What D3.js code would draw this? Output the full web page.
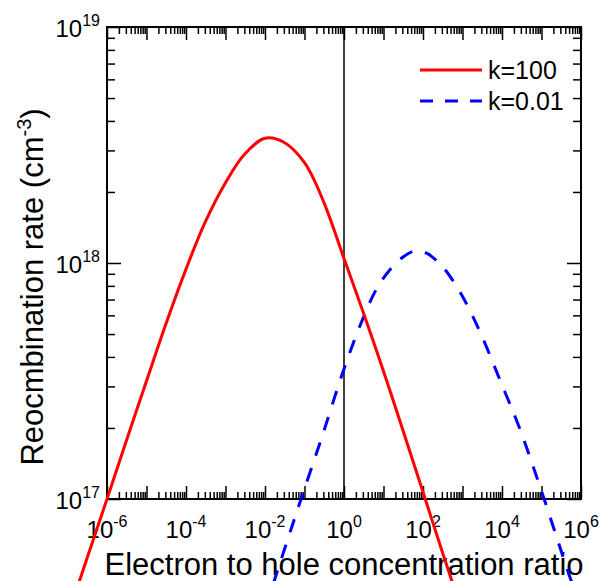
<!DOCTYPE html>
<html>
<head>
<meta charset="utf-8">
<script src="https://cdn.jsdelivr.net/npm/d3@7"></script>
<style>
    body { margin: 0; background: #fff; }
    svg { display: block; font-family: Arial, "Liberation Sans", sans-serif; }
    .tick line { stroke: #000; stroke-width: 1.5; }
    .tick-label { font-size: 24px; fill: #000; }
    .axis-title { font-size: 31px; fill: #000; }
    .legend-text { font-size: 25px; fill: #000; }
</style>
</head>
<body>
<svg id="chart"></svg>
<script>
// Values
const redRatio = [1e-7, 3e-7, 1e-6, 3e-6, 1e-5, 3e-5, 1e-4, 3e-4, 1e-3, 3e-3, 1e-2, 3e-2, 1e-1, 3e-1, 1, 3, 10, 30, 100, 300, 1000];
const redRate = [3.16e16, 5.5e16, 1.0e17, 1.74e17, 3.16e17, 5.43e17, 9.42e17, 1.48e18, 2.19e18, 2.88e18, 3.38e18, 3.25e18, 2.66e18, 1.83e18, 1.045e18, 6.25e17, 3.48e17, 1.99e17, 1.07e17, 6.05e16, 3.29e16];

const blueRatio = [1e-2, 3.16e-2, 8.5e-2, 0.27, 0.95, 2.8, 8.1, 29, 63, 123, 224, 398, 955, 2750, 8900, 2.9e4, 1.12e5, 5.2e5, 1e6];
const blueRate = [3.4e16, 6.17e16, 1.02e17, 1.81e17, 3.47e17, 5.64e17, 8.2e17, 1.05e18, 1.125e18, 1.10e18, 1.02e18, 9.18e17, 7.31e17, 5.12e17, 3.19e17, 1.96e17, 1.02e17, 4.68e16, 3.47e16];

const seriesNames = ["k=100", "k=0.01"];
const xTickLabelExp = [-6, -4, -2, 0, 2, 4, 6];
const yTickLabelExp = [17, 18, 19];

const margin = { top: 27, right: 18, bottom: 82, left: 107 };
const width = 599 - margin.left - margin.right;
const height = 581 - margin.top - margin.bottom;

const svg = d3.select("#chart")
    .attr("width", 599)
    .attr("height", 581);

const g = svg.append("g")
    .attr("transform", `translate(${margin.left},${margin.top})`);

const x = d3.scaleLog().domain([1e-6, 1e6]).range([0, width]);
const y = d3.scaleLog().domain([1e17, 1e19]).range([height, 0]);

// tick positions: one major per decade, minors 2..9
const xMajor = d3.range(-6, 7).map(e => Math.pow(10, e));
const yMajor = d3.range(17, 20).map(e => Math.pow(10, e));
const minorOf = majors => majors.slice(0, -1).flatMap(m => d3.range(2, 10).map(k => k * m));
const xMinor = minorOf(xMajor);
const yMinor = minorOf(yMajor);

function tickAxis(axis, values, size, transform) {
    g.append("g")
        .attr("transform", transform || null)
        .call(axis.tickValues(values).tickSize(-size).tickFormat(""))
        .call(a => a.select(".domain").remove());
}

// inward ticks on all four sides
tickAxis(d3.axisBottom(x), xMajor, 13, `translate(0,${height})`);
tickAxis(d3.axisBottom(x), xMinor, 7, `translate(0,${height})`);
tickAxis(d3.axisTop(x), xMajor, 13);
tickAxis(d3.axisTop(x), xMinor, 7);
tickAxis(d3.axisLeft(y), yMajor, 14);
tickAxis(d3.axisLeft(y), yMinor, 8);
tickAxis(d3.axisRight(y), yMajor, 14, `translate(${width},0)`);
tickAxis(d3.axisRight(y), yMinor, 8, `translate(${width},0)`);

// frame
g.append("rect")
    .attr("width", width)
    .attr("height", height)
    .attr("fill", "none")
    .attr("stroke", "#000")
    .attr("stroke-width", 2);

// vertical line at ratio = 1
g.append("line")
    .attr("x1", x(1)).attr("x2", x(1))
    .attr("y1", 0).attr("y2", height)
    .attr("stroke", "#000")
    .attr("stroke-width", 1.5);

// tick labels with superscript exponents
const xl = g.selectAll(".xlab")
    .data(xTickLabelExp)
    .join("text")
    .attr("class", "tick-label")
    .attr("x", d => x(Math.pow(10, d)))
    .attr("y", height + 39)
    .attr("text-anchor", "middle");
xl.append("tspan").text("10");
xl.append("tspan").attr("dy", -11).attr("font-size", 16).text(d => d);

const yl = g.selectAll(".ylab")
    .data(yTickLabelExp)
    .join("text")
    .attr("class", "tick-label")
    .attr("x", -7)
    .attr("y", d => y(Math.pow(10, d)) + 10)
    .attr("text-anchor", "end");
yl.append("tspan").text("10");
yl.append("tspan").attr("dy", -11).attr("font-size", 16).text(d => d);

// axis titles
g.append("text")
    .attr("class", "axis-title")
    .attr("x", width / 2)
    .attr("y", 575 - margin.top)
    .attr("text-anchor", "middle")
    .text("Electron to hole concentration ratio");

const yt = svg.append("text")
    .attr("class", "axis-title")
    .attr("transform", "translate(43,287) rotate(-90)")
    .attr("text-anchor", "middle");
yt.append("tspan").text("Reocmbination rate (cm");
yt.append("tspan").attr("dy", -12).attr("font-size", 20).text("-3");
yt.append("tspan").attr("dy", 12).text(")");

// curves
const line = (xs, ys) => d3.line()
    .x(i => x(xs[i]))
    .y(i => y(ys[i]))
    .curve(d3.curveCatmullRom.alpha(0.5))(d3.range(xs.length));

g.append("path")
    .attr("d", line(blueRatio, blueRate))
    .attr("fill", "none")
    .attr("stroke", "#0000ff")
    .attr("stroke-width", 3)
    .attr("stroke-dasharray", "14,13");

g.append("path")
    .attr("d", line(redRatio, redRate))
    .attr("fill", "none")
    .attr("stroke", "#ff0000")
    .attr("stroke-width", 3);

// legend
const legend = svg.append("g");
legend.append("line")
    .attr("x1", 420).attr("x2", 482).attr("y1", 70).attr("y2", 70)
    .attr("stroke", "#ff0000").attr("stroke-width", 3);
legend.append("text")
    .attr("class", "legend-text")
    .attr("x", 488).attr("y", 79)
    .text(seriesNames[0]);
legend.append("line")
    .attr("x1", 420).attr("x2", 482).attr("y1", 101).attr("y2", 101)
    .attr("stroke", "#0000ff").attr("stroke-width", 3)
    .attr("stroke-dasharray", "13,12");
legend.append("text")
    .attr("class", "legend-text")
    .attr("x", 488).attr("y", 110)
    .text(seriesNames[1]);
</script>
</body>
</html>
